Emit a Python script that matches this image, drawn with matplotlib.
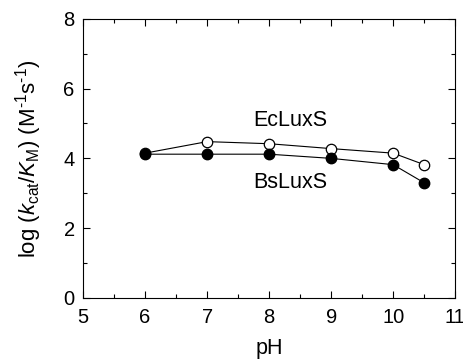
import matplotlib
matplotlib.use('Agg')
import matplotlib.pyplot as plt
from matplotlib.ticker import MultipleLocator

plt.rcParams['font.family'] = ['Liberation Sans', 'DejaVu Sans']
plt.rcParams['mathtext.fontset'] = 'custom'
plt.rcParams['mathtext.rm'] = 'Liberation Sans'
plt.rcParams['mathtext.it'] = 'Liberation Sans:italic'

# dane
ph = [6, 7, 8, 9, 10, 10.5]
ec_luxs = [4.15, 4.48, 4.42, 4.28, 4.15, 3.82]
bs_luxs = [4.12, 4.12, 4.12, 4.0, 3.82, 3.3]

fig = plt.figure(figsize=(4.64, 3.62), dpi=100)
ax = fig.add_axes([0.179, 0.177, 0.802, 0.771])

ax.plot(ph, ec_luxs, '-o', color='black', lw=0.8, ms=7.5,
        markerfacecolor='white', markeredgecolor='black', markeredgewidth=0.9)
ax.plot(ph, bs_luxs, '-o', color='black', lw=0.8, ms=7.5,
        markerfacecolor='black', markeredgecolor='black')

ax.text(8.34, 5.08, 'EcLuxS', fontsize=15.5, ha='center', va='center')
ax.text(8.34, 3.30, 'BsLuxS', fontsize=15.5, ha='center', va='center')

ax.set_xlim(5, 11)
ax.set_ylim(0, 8)
ax.xaxis.set_major_locator(MultipleLocator(1))
ax.xaxis.set_minor_locator(MultipleLocator(0.5))
ax.yaxis.set_major_locator(MultipleLocator(2))
ax.yaxis.set_minor_locator(MultipleLocator(1))
ax.tick_params(which='both', direction='in', top=True, right=True, labelsize=14.5)
ax.tick_params(which='major', length=5, width=0.8)
ax.tick_params(axis='x', which='major', pad=7)
ax.tick_params(axis='y', which='major', pad=6)
ax.tick_params(which='minor', length=3, width=0.8)
for s in ax.spines.values():
    s.set_linewidth(0.8)

ax.set_xlabel('pH', fontsize=15.5, labelpad=8)
ax.set_ylabel(r'log ($k_{\rm cat}$/$K_{\rm M}$) (M$^{\rm {\text{-}}1}$s$^{\rm {\text{-}}1}$)',
              fontsize=16, labelpad=14)

fig.savefig('out.png', dpi=100)
